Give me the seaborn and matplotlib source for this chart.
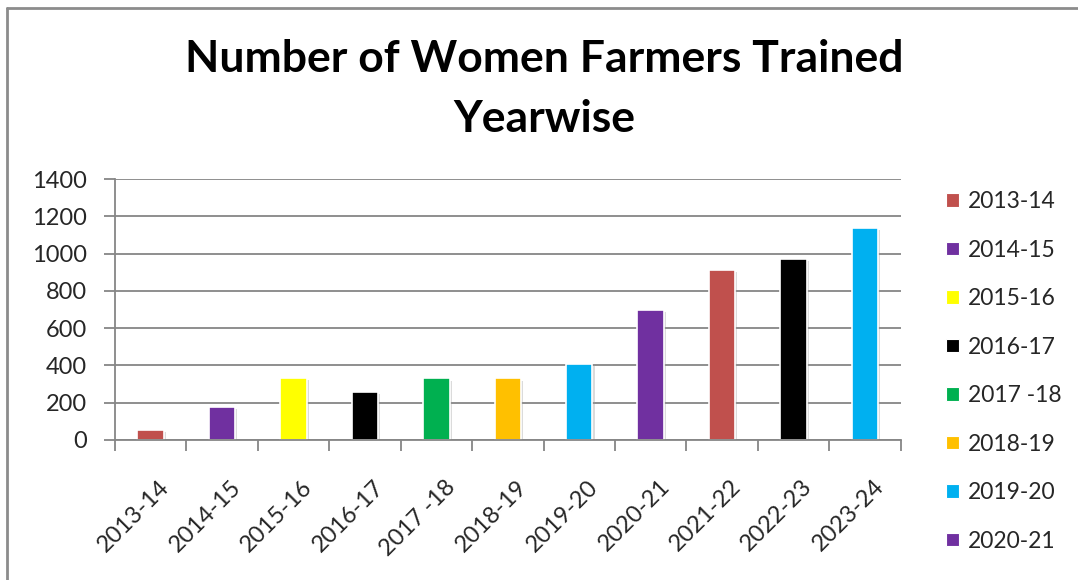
import matplotlib
matplotlib.use("Agg")
import matplotlib.pyplot as plt
import matplotlib.patheffects as pe
import matplotlib.transforms as mtransforms
from matplotlib.patches import Patch
from matplotlib.lines import Line2D
import seaborn as sns
import pandas as pd
import numpy as np

years = ["2013-14", "2014-15", "2015-16", "2016-17", "2017 -18", "2018-19",
         "2019-20", "2020-21", "2021-22", "2022-23", "2023-24"]
trained = [55, 175, 333, 258, 330, 330, 410, 700, 910, 970, 1136]
bar_colors = ["#C0504D", "#7030A0", "#FFFF00", "#000000", "#00B050", "#FFC000",
              "#00B0F0", "#7030A0", "#C0504D", "#000000", "#00B0F0"]
legend_years = years[:8]
legend_colors = bar_colors[:8]

df = pd.DataFrame({"year": years, "trained": trained})

sns.set_theme(style="white")
plt.rcParams["font.family"] = ["Lato", "DejaVu Sans"]

grid_col = "#868686"
fig = plt.figure(figsize=(10.78, 5.80), dpi=100)
ax = fig.add_axes([115 / 1078, 1 - 440 / 580, (900.7 - 115) / 1078, (440 - 179) / 580])

sns.barplot(data=df, x="year", y="trained", hue="year",
            palette=dict(zip(years, bar_colors)), legend=False, saturation=1,
            width=0.37, edgecolor="white", linewidth=1.2, ax=ax)
for p in ax.patches:
    p.set_path_effects([pe.SimplePatchShadow(offset=(1.5, -1.5), shadow_rgbFace="#999999", alpha=0.35),
                        pe.Normal()])

ax.set_xlim(-0.5, len(years) - 0.5)
ax.set_ylim(0, 1400)
ax.set_yticks(np.arange(0, 1401, 200))
ax.yaxis.grid(True, color=grid_col, linewidth=1.3)
ax.set_axisbelow(True)
ax.set_xlabel("")
ax.set_ylabel("")

for s in ["top", "right"]:
    ax.spines[s].set_visible(False)
for s in ["left", "bottom"]:
    ax.spines[s].set_color(grid_col)
    ax.spines[s].set_linewidth(1.3)

ax.tick_params(axis="y", which="major", direction="out", length=8, width=1.3,
               color=grid_col, labelsize=17, pad=12, left=True)
ax.set_xticks(np.arange(-0.5, len(years)), minor=True)
ax.tick_params(axis="x", which="minor", direction="out", length=8, width=1.3,
               color=grid_col, bottom=True)
ax.tick_params(axis="x", which="major", length=0, labelsize=17, pad=26)
# labels sit slightly right of the bar centre
shift = mtransforms.ScaledTranslation(0.08, 0, fig.dpi_scale_trans)
for lbl in ax.get_xticklabels():
    lbl.set_rotation(45)
    lbl.set_ha("right")
    lbl.set_rotation_mode("anchor")
    lbl.set_transform(lbl.get_transform() + shift)

fig.text(0.505, 1 - 89 / 580, "Number of Women Farmers Trained\nYearwise",
         ha="center", va="center", fontsize=32, fontweight="bold",
         linespacing=1.6, color="black")

handles = [Patch(facecolor=c, edgecolor="white", linewidth=0.8) for c in legend_colors]
fig.legend(handles, legend_years, loc="upper left", bbox_to_anchor=(937 / 1078, 1 - 182 / 580),
           frameon=False, fontsize=16.5, handlelength=0.55, handleheight=0.55,
           handletextpad=0.4, labelspacing=1.2, borderaxespad=0)

fig.add_artist(Line2D([7 / 1078, 7 / 1078], [0, 1 - 8 / 580], color="#8c8c8c", linewidth=2))
fig.add_artist(Line2D([7 / 1078, 1], [1 - 8 / 580, 1 - 8 / 580], color="#8c8c8c", linewidth=2))

fig.savefig("out.png", dpi=100)
